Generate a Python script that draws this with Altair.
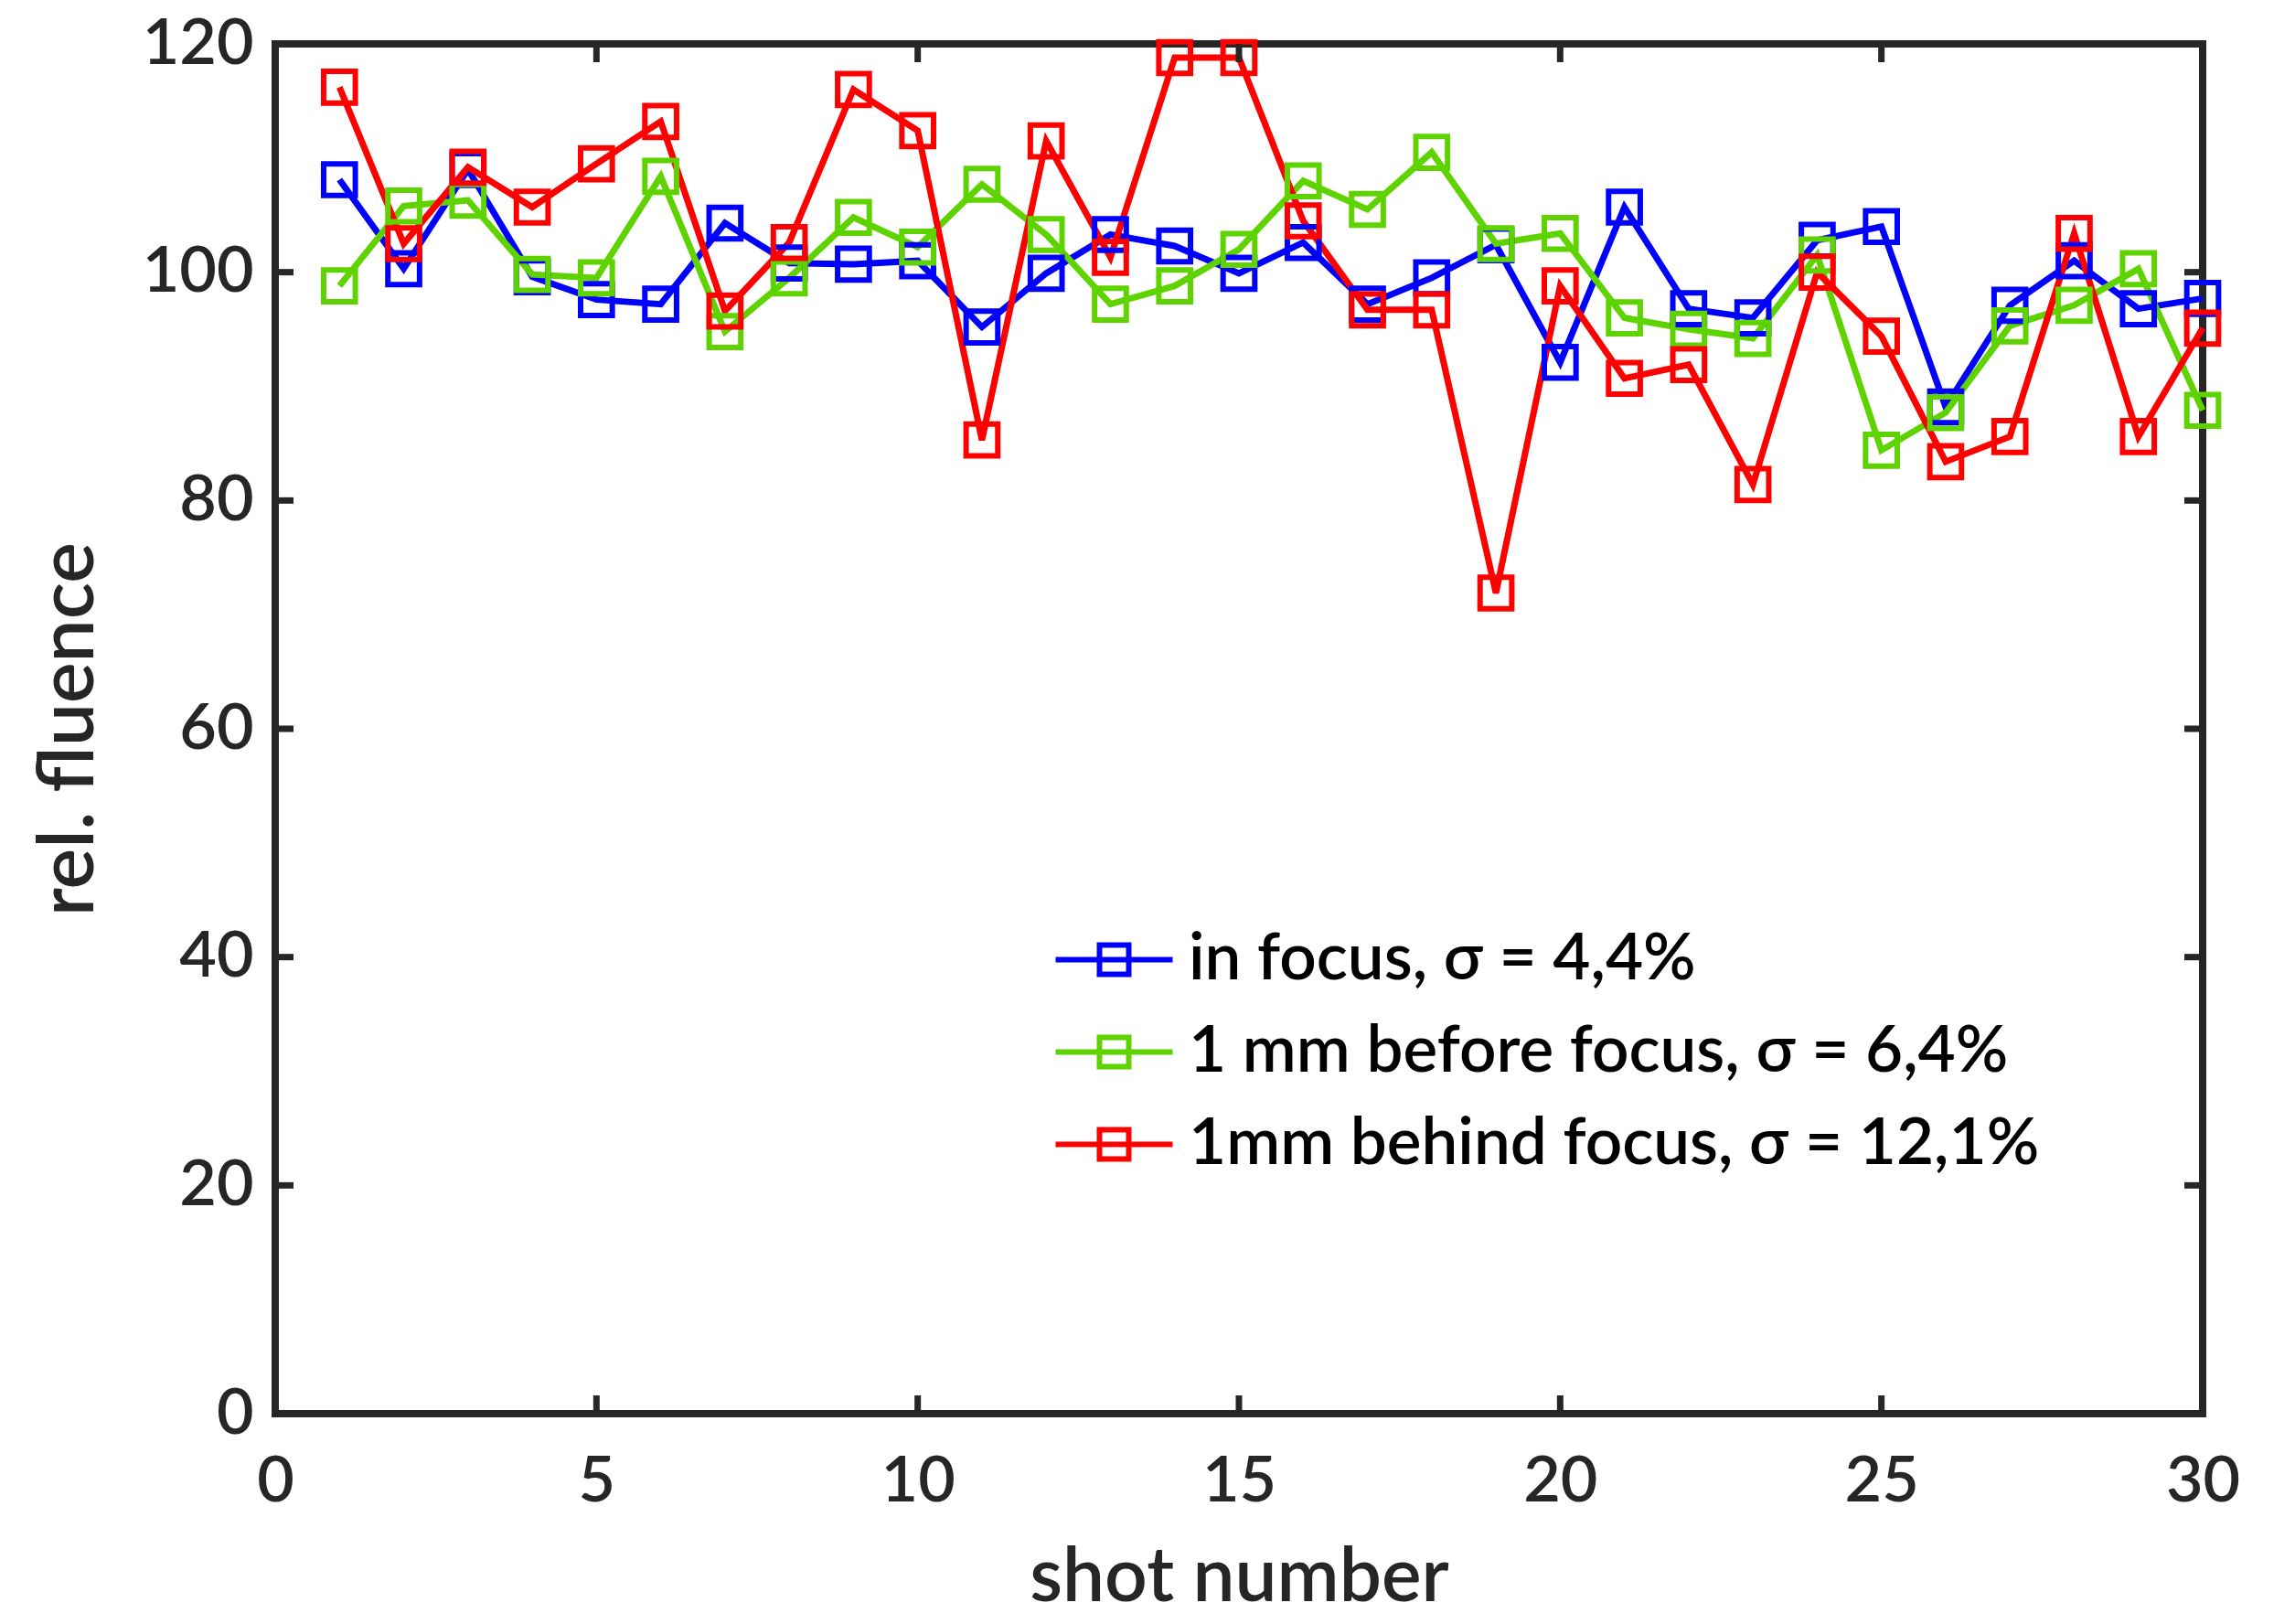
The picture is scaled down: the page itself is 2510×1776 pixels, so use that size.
import altair as alt
import pandas as pd

shots = list(range(1, 31))
in_focus = [108.1, 100.3, 109.0, 99.6, 97.6, 97.2, 104.3, 100.8, 100.7, 101.0,
            95.2, 99.9, 103.3, 102.3, 99.9, 102.6, 97.2, 99.5, 102.4, 92.1,
            105.7, 96.8, 96.0, 102.8, 104.0, 88.2, 97.1, 101.0, 96.8, 97.7]
before_focus = [98.8, 105.8, 106.3, 99.8, 99.5, 108.4, 94.8, 99.5, 104.8, 102.2,
                107.7, 103.3, 97.2, 98.8, 102.0, 108.0, 105.5, 110.5, 102.5, 103.4,
                96.0, 95.0, 94.2, 101.5, 84.4, 87.7, 95.3, 97.1, 100.3, 87.9]
behind_focus = [116.2, 102.5, 109.2, 105.7, 109.5, 113.2, 96.6, 102.6, 116.0, 112.4,
                85.3, 111.5, 101.3, 118.8, 118.8, 104.5, 96.7, 96.7, 71.9, 98.8,
                90.7, 91.9, 81.4, 100.0, 94.4, 83.4, 85.6, 103.4, 85.6, 95.1]

series_names = ["in focus, σ = 4,4%", "1 mm before focus, σ = 6,4%", "1mm behind focus, σ = 12,1%"]
series_colors = ["#0000FF", "#5FD300", "#FF0000"]

x_ticks = [5, 10, 15, 20, 25]
y_ticks = [20, 40, 60, 80, 100]
x_labels = [0, 5, 10, 15, 20, 25, 30]
y_labels = [0, 20, 40, 60, 80, 100, 120]

rows = []
for name, vals in zip(series_names, [in_focus, before_focus, behind_focus]):
    for s, v in zip(shots, vals):
        rows.append({"shot": s, "fluence": v, "series": name})
df = pd.DataFrame(rows)

W, H = 2108, 1498
FONT = "Lato"
DARK = "#262626"

xs = alt.Scale(domain=[0, 30], nice=False)
ys = alt.Scale(domain=[0, 120], nice=False)
cs = alt.Scale(domain=series_names, range=series_colors)

legend = alt.Legend(
    title=None, orient="none", legendX=882, legendY=966,
    symbolType="M-2,0L2,0M-0.5,-0.5L0.5,-0.5L0.5,0.5L-0.5,0.5Z",
    symbolSize=4096, symbolStrokeWidth=6, symbolFillColor="transparent",
    labelFontSize=71, labelFont=FONT, labelColor="black", labelFontWeight=600,
    labelOffset=46, rowPadding=29, labelLimit=2000,
)

x_enc = alt.X("shot:Q", scale=xs,
              axis=alt.Axis(values=x_labels, format="d", title="shot number", ticks=False, domain=False,
                            grid=False, labelPadding=40, titlePadding=30, labelFlush=False,
                            labelFontSize=70, titleFontSize=82, labelFont=FONT, titleFont=FONT,
                            labelColor=DARK, titleColor=DARK, labelFontWeight=600, titleFontWeight=600))
y_enc = alt.Y("fluence:Q", scale=ys,
              axis=alt.Axis(values=y_labels, format="d", title="rel. fluence", ticks=False, domain=False,
                            grid=False, labelPadding=24, titlePadding=36, labelFlush=False,
                            labelFontSize=70, titleFontSize=84, labelFont=FONT, titleFont=FONT,
                            labelColor=DARK, titleColor=DARK, labelFontWeight=600, titleFontWeight=600))

lines = alt.Chart(df).mark_line(strokeWidth=7).encode(
    x=x_enc, y=y_enc,
    color=alt.Color("series:N", scale=cs, legend=legend),
    detail="series:N",
)

points = alt.Chart(df).mark_point(shape="square", filled=False, size=1200, strokeWidth=6, opacity=1).encode(
    x=alt.X("shot:Q", scale=xs),
    y=alt.Y("fluence:Q", scale=ys),
    color=alt.Color("series:N", scale=cs, legend=legend),
)

ytick_df = pd.DataFrame({"v": y_ticks})
xtick_df = pd.DataFrame({"v": x_ticks})
TL = 20
tick_style = dict(color=DARK, strokeWidth=7)
left_ticks = alt.Chart(ytick_df).mark_rule(**tick_style).encode(
    y=alt.Y("v:Q", scale=ys), x=alt.value(0), x2=alt.value(TL))
right_ticks = alt.Chart(ytick_df).mark_rule(**tick_style).encode(
    y=alt.Y("v:Q", scale=ys), x=alt.value(W - TL), x2=alt.value(W))
bottom_ticks = alt.Chart(xtick_df).mark_rule(**tick_style).encode(
    x=alt.X("v:Q", scale=xs), y=alt.value(H - TL), y2=alt.value(H))
top_ticks = alt.Chart(xtick_df).mark_rule(**tick_style).encode(
    x=alt.X("v:Q", scale=xs), y=alt.value(0), y2=alt.value(TL))

chart = alt.layer(lines, points, left_ticks, right_ticks, bottom_ticks, top_ticks).properties(
    width=W, height=H,
    autosize=alt.AutoSizeParams(type="none"),
    padding={"left": 301, "top": 48, "right": 101, "bottom": 230},
    background="white",
).configure_view(stroke=DARK, strokeWidth=8)

chart.save("out.html", embed_options={"renderer": "svg", "actions": False})
